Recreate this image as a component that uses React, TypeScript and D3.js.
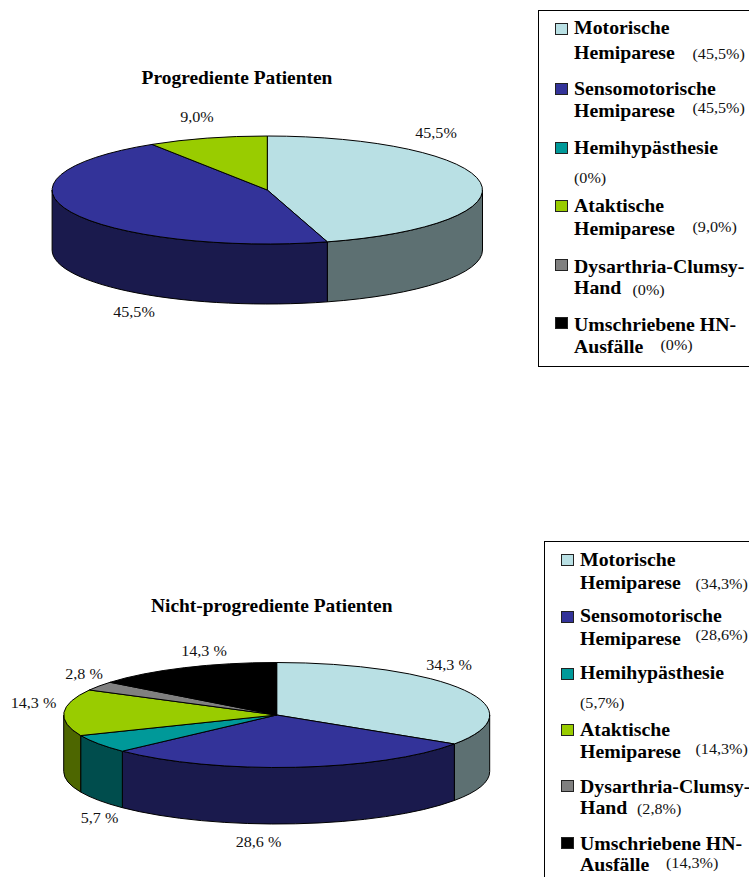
import React from "react";
import * as d3 from "d3";

// Stroke subtypes, shared by both pies and legends
const categories = [
  "Motorische Hemiparese",
  "Sensomotorische Hemiparese",
  "Hemihypästhesie",
  "Ataktische Hemiparese",
  "Dysarthria-Clumsy-Hand",
  "Umschriebene HN-Ausfälle",
];
const sliceColors = ["#B9E0E4", "#333399", "#009999", "#99CC00", "#808080", "#000000"];

const progressiveValues = [45.5, 45.5, 0, 9.0, 0, 0];
const stableValues = [34.3, 28.6, 5.7, 14.3, 2.8, 14.3];

const progressiveSliceLabels = ["45,5%", "45,5%", "", "9,0%", "", ""];
const stableSliceLabels = ["34,3 %", "28,6 %", "5,7 %", "14,3 %", "2,8 %", "14,3 %"];

const progressiveShares = ["(45,5%)", "(45,5%)", "(0%)", "(9,0%)", "(0%)", "(0%)"];
const stableShares = ["(34,3%)", "(28,6%)", "(5,7%)", "(14,3%)", "(2,8%)", "(14,3%)"];

// Each legend entry is set on two lines
const legendLines = [
  ["Motorische", "Hemiparese"],
  ["Sensomotorische", "Hemiparese"],
  ["Hemihypästhesie", ""],
  ["Ataktische", "Hemiparese"],
  ["Dysarthria-Clumsy-", "Hand"],
  ["Umschriebene HN-", "Ausfälle"],
];

const SERIF = "'Liberation Serif', 'Times New Roman', serif";
const TITLE_SIZE = 18;
const TITLE_STRETCH = 1.08;
const LABEL_SIZE = 15.5;
const LABEL_STRETCH = 1.04;
const LEGEND_SIZE = 18;
const LEGEND_STRETCH = 1.1;
const SHARE_SIZE = 15.5;
const SHARE_STRETCH = 1.04;

type Point = [number, number];

interface PieLayout {
  title: string;
  titleAt: Point;
  cx: number;
  cy: number;
  rx: number;
  ry: number;
  depth: number;
  values: number[];
  labels: string[];
  labelAt: Point[];
}

interface LegendLayout {
  box: { x: number; y: number; bottom: number };
  swatchX: number;
  textX: number;
  swatchY: number[];
  line1Y: number[];
  line2Y: number[];
  shares: string[];
  shareAt: Point[];
}

const upperPie: PieLayout = {
  title: "Progrediente Patienten",
  titleAt: [237, 84],
  cx: 267.3,
  cy: 190,
  rx: 215.2,
  ry: 54,
  depth: 60,
  values: progressiveValues,
  labels: progressiveSliceLabels,
  labelAt: [[436, 138], [134, 317], [0, 0], [197, 122], [0, 0], [0, 0]],
};

const lowerPie: PieLayout = {
  title: "Nicht-progrediente Patienten",
  titleAt: [271.7, 612],
  cx: 276.7,
  cy: 715,
  rx: 213,
  ry: 52.5,
  depth: 56.5,
  values: stableValues,
  labels: stableSliceLabels,
  labelAt: [[449, 670], [258.5, 847], [99.5, 823], [33.5, 708], [84, 679], [204, 656]],
};

const upperLegend: LegendLayout = {
  box: { x: 538.5, y: 10.5, bottom: 366.5 },
  swatchX: 555.5,
  textX: 574,
  swatchY: [23.5, 83.5, 142.5, 200.5, 259.5, 317.5],
  line1Y: [34, 95, 154, 212, 273, 331],
  line2Y: [58.5, 117, 183, 235, 294, 353],
  shares: progressiveShares,
  shareAt: [[692.5, 59], [692.5, 113], [574, 183], [692.5, 232], [632.5, 295], [660.5, 350]],
};

const lowerLegend: LegendLayout = {
  box: { x: 544.5, y: 541.5, bottom: 900 },
  swatchX: 561.5,
  textX: 580,
  swatchY: [554.5, 611.5, 668.5, 724.5, 780.5, 837.5],
  line1Y: [566, 622, 679, 736, 793, 850],
  line2Y: [589, 645, 708, 758, 814, 871],
  shares: stableShares,
  shareAt: [[695.5, 589], [695.5, 640], [580, 708], [695.5, 754], [637, 814], [666, 868]],
};

// Front-wall tint: the slice colour at half brightness
function shade(color: string): string {
  const c = d3.rgb(color);
  return d3.rgb(c.r * 0.5, c.g * 0.5, c.b * 0.5).formatHex();
}

// Text widened horizontally around its anchor point
function WideText(props: {
  at: Point;
  size: number;
  stretch: number;
  bold?: boolean;
  middle?: boolean;
  fill?: string;
  children: React.ReactNode;
}) {
  const { at, size, stretch, bold, middle, fill, children } = props;
  return (
    <text
      transform={`translate(${at[0]},${at[1]}) scale(${stretch},1)`}
      textAnchor={middle ? "middle" : "start"}
      fontSize={size}
      fontWeight={bold ? "bold" : "normal"}
      fontFamily={SERIF}
      fill={fill ?? "#000"}
    >
      {children}
    </text>
  );
}

function Pie3D({ layout }: { layout: PieLayout }) {
  const { cx, cy, rx, ry, depth, values, labels, labelAt, title, titleAt } = layout;
  const arcs = d3.pie<number>().sort(null)(values);
  const topArc = d3.arc<d3.PieArcDatum<number>>().innerRadius(0).outerRadius(rx);

  const project = (a: number): Point => [cx + rx * Math.sin(a), cy - ry * Math.cos(a)];

  // Wall between two angles, limited to the half of the rim facing the viewer
  const wallPath = (start: number, end: number): string | null => {
    const a0 = Math.max(start, Math.PI / 2);
    const a1 = Math.min(end, (3 * Math.PI) / 2);
    if (a1 <= a0) return null;
    const [x0, y0] = project(a0);
    const [x1, y1] = project(a1);
    return (
      `M${x0},${y0} A${rx},${ry} 0 0 1 ${x1},${y1} ` +
      `L${x1},${y1 + depth} A${rx},${ry} 0 0 0 ${x0},${y0 + depth} Z`
    );
  };

  return (
    <g>
      <WideText at={titleAt} size={TITLE_SIZE} stretch={TITLE_STRETCH} bold middle>
        {title}
      </WideText>
      {arcs.map((d, i) => {
        const path = d.value > 0 ? wallPath(d.startAngle, d.endAngle) : null;
        return path ? (
          <path key={`wall-${i}`} d={path} fill={shade(sliceColors[i])} stroke="#000" strokeWidth={1} strokeLinejoin="round" />
        ) : null;
      })}
      <g transform={`translate(${cx},${cy}) scale(1,${ry / rx})`}>
        {arcs.map((d, i) =>
          d.value > 0 ? (
            <path
              key={`top-${i}`}
              d={topArc(d) as string}
              fill={sliceColors[i]}
              stroke="#000"
              strokeWidth={1}
              strokeLinejoin="round"
              vectorEffect="non-scaling-stroke"
            />
          ) : null,
        )}
      </g>
      {labels.map((text, i) =>
        text ? (
          <WideText key={`label-${i}`} at={labelAt[i]} size={LABEL_SIZE} stretch={LABEL_STRETCH} middle fill="#111">
            {text}
          </WideText>
        ) : null,
      )}
    </g>
  );
}

function Legend({ layout }: { layout: LegendLayout }) {
  const { box, swatchX, textX, swatchY, line1Y, line2Y, shares, shareAt } = layout;
  return (
    <g>
      <rect x={box.x} y={box.y} width={749 - box.x + 20} height={box.bottom - box.y} fill="#fff" stroke="#000" strokeWidth={1} />
      {categories.map((name, i) => (
        <g key={name}>
          <rect x={swatchX} y={swatchY[i]} width={12} height={11} fill={sliceColors[i]} stroke="#222" strokeWidth={1} />
          <WideText at={[textX, line1Y[i]]} size={LEGEND_SIZE} stretch={LEGEND_STRETCH} bold>
            {legendLines[i][0]}
          </WideText>
          {legendLines[i][1] && (
            <WideText at={[textX, line2Y[i]]} size={LEGEND_SIZE} stretch={LEGEND_STRETCH} bold>
              {legendLines[i][1]}
            </WideText>
          )}
          <WideText at={shareAt[i]} size={SHARE_SIZE} stretch={SHARE_STRETCH} fill="#111">
            {shares[i]}
          </WideText>
        </g>
      ))}
    </g>
  );
}

export default function App() {
  return (
    <svg
      width={749}
      height={877}
      viewBox="0 0 749 877"
      style={{ position: "absolute", left: 0, top: 0, display: "block", background: "#fff" }}
    >
      <Pie3D layout={upperPie} />
      <Legend layout={upperLegend} />
      <Pie3D layout={lowerPie} />
      <Legend layout={lowerLegend} />
    </svg>
  );
}
